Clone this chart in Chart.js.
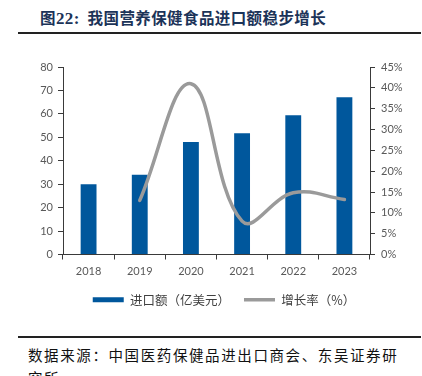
<!DOCTYPE html>
<html>
<head>
<meta charset="utf-8">
<script src="https://cdn.jsdelivr.net/npm/chart.js@4"></script>
<style>
  html, body { margin: 0; padding: 0; background: #fff; width: 422px; height: 376px; overflow: hidden; position: relative; }
  #title { position: absolute; left: 40px; top: 6px; font-family: "Noto Sans CJK SC", sans-serif; font-weight: 700; font-size: 15.5px; color: #1b3358; white-space: nowrap; letter-spacing: 0.4px; }
  #title .num { font-family: "Liberation Serif", serif; font-size: 17px; }
  #rule1 { position: absolute; left: 18px; top: 32px; width: 403px; height: 2px; background: #222; }
  #rule2 { position: absolute; left: 18px; top: 336px; width: 403px; height: 1.5px; background: #222; }
  #foot { position: absolute; left: 28px; top: 343px; font-family: "Noto Sans CJK SC", sans-serif; font-size: 14.5px; line-height: 23px; color: #111; letter-spacing: 1.6px; white-space: nowrap; }
  #wrap { position: absolute; left: 0; top: 40px; width: 422px; height: 290px; }
</style>
</head>
<body>
<div id="title">图<span class="num">22:</span>&nbsp; 我国营养保健食品进口额稳步增长</div>
<div id="rule1"></div>
<div id="wrap"><canvas id="c" width="422" height="290"></canvas></div>
<div id="rule2"></div>
<div id="foot">数据来源：中国医药保健品进出口商会、东吴证券研<br>究所</div>
<script>
const categories = ["2018", "2019", "2020", "2021", "2022", "2023"];
const importValues = [30, 34, 48, 51.7, 59.4, 67.1];
const growthRates = [null, 13, 41, 8, 14.8, 13.2];
const leftTicks = [0, 10, 20, 30, 40, 50, 60, 70, 80];
const rightTicks = [0, 5, 10, 15, 20, 25, 30, 35, 40, 45];
const seriesNames = ["进口额（亿美元）", "增长率（%）"];

const axisColor = "#3a3a3a";
const tickColor = "#595959";

new Chart(document.getElementById("c"), {
  type: "bar",
  data: {
    labels: categories,
    datasets: [
      {
        label: seriesNames[0],
        data: importValues,
        backgroundColor: "#00579c",
        borderWidth: 0,
        categoryPercentage: 1,
        barPercentage: 0.31,
        yAxisID: "y",
        order: 1,
        pointStyle: "rect"
      },
      {
        label: seriesNames[1],
        type: "line",
        data: growthRates,
        borderColor: "#9a9a9a",
        backgroundColor: "#9a9a9a",
        borderWidth: 3.5,
        borderCapStyle: "round",
        pointRadius: 0,
        pointHoverRadius: 0,
        tension: 0.4,
        yAxisID: "y1",
        order: 0,
        pointStyle: "line"
      }
    ]
  },
  options: {
    responsive: false,
    animation: false,
    layout: { padding: { top: 27, left: 26, right: 0, bottom: 14 } },
    plugins: {
      tooltip: { enabled: false },
      legend: {
        position: "bottom",
        labels: {
          usePointStyle: true,
          pointStyleWidth: 31,
          boxWidth: 31,
          boxHeight: 5,
          padding: 14,
          color: "#404040",
          font: { family: "Noto Sans CJK SC", size: 12.5 },
          sort: (a, b) => a.datasetIndex - b.datasetIndex
        }
      }
    },
    scales: {
      x: {
        offset: true,
        grid: { display: true, drawOnChartArea: false, drawTicks: true, tickLength: 5, color: axisColor, offset: true },
        border: { display: true, color: axisColor, width: 1 },
        ticks: { color: tickColor, font: { family: "Lato", size: 11 }, padding: 5 },
        afterFit: (s) => { s.height = 25; }
      },
      y: {
        position: "left",
        min: 0, max: 80,
        afterBuildTicks: (s) => { s.ticks = leftTicks.map(v => ({ value: v })); },
        grid: { drawOnChartArea: false, drawTicks: true, tickLength: 5, color: axisColor },
        border: { display: true, color: axisColor, width: 1 },
        ticks: { color: tickColor, font: { family: "Lato", size: 11 }, padding: 5 },
        afterFit: (s) => { s.width = 37; }
      },
      y1: {
        position: "right",
        min: 0, max: 45,
        afterBuildTicks: (s) => { s.ticks = rightTicks.map(v => ({ value: v })); },
        grid: { drawOnChartArea: false, drawTicks: true, tickLength: 5, color: axisColor },
        border: { display: true, color: axisColor, width: 1 },
        ticks: { color: tickColor, font: { family: "Lato", size: 11 }, padding: 6, callback: (v) => v + "%" },
        afterFit: (s) => { s.width = 52; }
      }
    }
  }
});
</script>
</body>
</html>
